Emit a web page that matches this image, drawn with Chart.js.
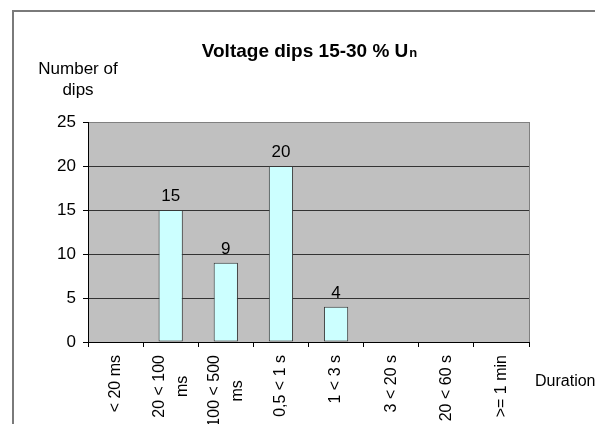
<!DOCTYPE html>
<html>
<head>
<meta charset="utf-8">
<script src="https://cdn.jsdelivr.net/npm/chart.js@4.4.0/dist/chart.umd.min.js"></script>
<style>
  html, body { margin: 0; padding: 0; background: #fff; }
  canvas { display: block; }
</style>
</head>
<body>
<canvas id="chart" width="595" height="424"></canvas>
<script>
// values (blank cells -> null)
const categories = [
  ['< 20 ms'],
  ['20 < 100', 'ms'],
  ['100 < 500', 'ms'],
  ['0,5 < 1 s'],
  ['1 < 3 s'],
  ['3 < 20 s'],
  ['20 < 60 s'],
  ['>= 1 min']
];
const dips = [null, 15, 9, 20, 4, null, null, null];
const yTicks = [0, 5, 10, 15, 20, 25];

const FONT = '"Liberation Sans", Arial, sans-serif';
Chart.defaults.font.family = FONT;
Chart.defaults.font.size = 17;
Chart.defaults.color = '#000';

// frame, grey plot area, title and axis captions
const decor = {
  id: 'decor',
  beforeDraw(chart) {
    const c = chart.ctx, a = chart.chartArea;
    c.save();
    c.fillStyle = '#fff';
    c.fillRect(0, 0, chart.width, chart.height);
    c.strokeStyle = '#7a7a7a';
    c.lineWidth = 2;
    c.strokeRect(13, 11, chart.width + 10, chart.height + 10);
    c.fillStyle = '#c0c0c0';
    c.fillRect(a.left, a.top, a.right - a.left, a.bottom - a.top);
    c.strokeStyle = '#808080';
    c.lineWidth = 1;
    c.strokeRect(a.left + 0.5, a.top + 0.5, a.right - a.left, a.bottom - a.top);
    c.restore();
  },
  afterDraw(chart) {
    const c = chart.ctx, a = chart.chartArea;
    const xs = chart.scales.x;
    c.save();
    c.fillStyle = '#000';

    // title with subscript n
    const main = 'Voltage dips 15-30 % U';
    c.font = 'bold 19px ' + FONT;
    const w1 = c.measureText(main).width;
    c.font = 'bold 13px ' + FONT;
    const w2 = c.measureText('n').width;
    let tx = 309 - (w1 + w2) / 2;
    c.textBaseline = 'alphabetic';
    c.textAlign = 'left';
    c.font = 'bold 19px ' + FONT;
    c.fillText(main, tx, 57);
    c.font = 'bold 13px ' + FONT;
    c.fillText('n', tx + w1 + 1, 57);

    // y caption
    c.font = '17px ' + FONT;
    c.textAlign = 'center';
    c.textBaseline = 'middle';
    c.fillText('Number of', 78, 69);
    c.fillText('dips', 78, 90);

    // x caption
    c.font = '16px ' + FONT;
    c.textAlign = 'left';
    c.fillText('Duration', 535, 382);

    // category labels, rotated, lines centred on each other
    c.font = '16px ' + FONT;
    const lh = 23;
    chart.data.labels.forEach((lines, i) => {
      const px = xs.getPixelForValue(i);
      let w = 0;
      lines.forEach(l => { w = Math.max(w, c.measureText(l).width); });
      c.save();
      c.translate(px, a.bottom + 13);
      c.rotate(-Math.PI / 2);
      c.textAlign = 'center';
      lines.forEach((l, j) => {
        c.fillText(l, -w / 2, (j - (lines.length - 1) / 2) * lh);
      });
      c.restore();
    });

    // value labels above bars
    c.font = '17px ' + FONT;
    c.textAlign = 'center';
    c.textBaseline = 'alphabetic';
    chart.getDatasetMeta(0).data.forEach((bar, i) => {
      const v = chart.data.datasets[0].data[i];
      if (v == null) return;
      c.fillText(String(v), bar.x, bar.y - 9);
    });
    c.restore();
  }
};

new Chart(document.getElementById('chart'), {
  type: 'bar',
  data: {
    labels: categories,
    datasets: [{
      data: dips,
      backgroundColor: '#ccffff',
      borderColor: '#383838',
      borderWidth: 1,
      borderSkipped: false,
      categoryPercentage: 1,
      barPercentage: 0.44
    }]
  },
  options: {
    responsive: false,
    animation: false,
    devicePixelRatio: 1,
    layout: { padding: { top: 122, right: 66, left: 0, bottom: 0 } },
    plugins: { legend: { display: false }, title: { display: false }, tooltip: { enabled: false } },
    scales: {
      x: {
        offset: true,
        afterFit(s) { s.height = 82; },
        ticks: { display: false },
        grid: { offset: true, drawOnChartArea: false, drawTicks: true, tickLength: 5, tickColor: '#000' },
        border: { display: true, color: '#000', width: 1 }
      },
      y: {
        min: 0,
        max: 25,
        afterFit(s) { s.width = 88; },
        afterBuildTicks(s) { s.ticks = yTicks.map(v => ({ value: v })); },
        ticks: { padding: 7, font: { size: 17 } },
        grid: {
          color: ctx => (ctx.tick && ctx.tick.value === 25) ? '#808080' : '#333',
          tickColor: '#000',
          tickLength: 5
        },
        border: { display: true, color: '#000', width: 1 }
      }
    }
  },
  plugins: [decor]
});
</script>
</body>
</html>
